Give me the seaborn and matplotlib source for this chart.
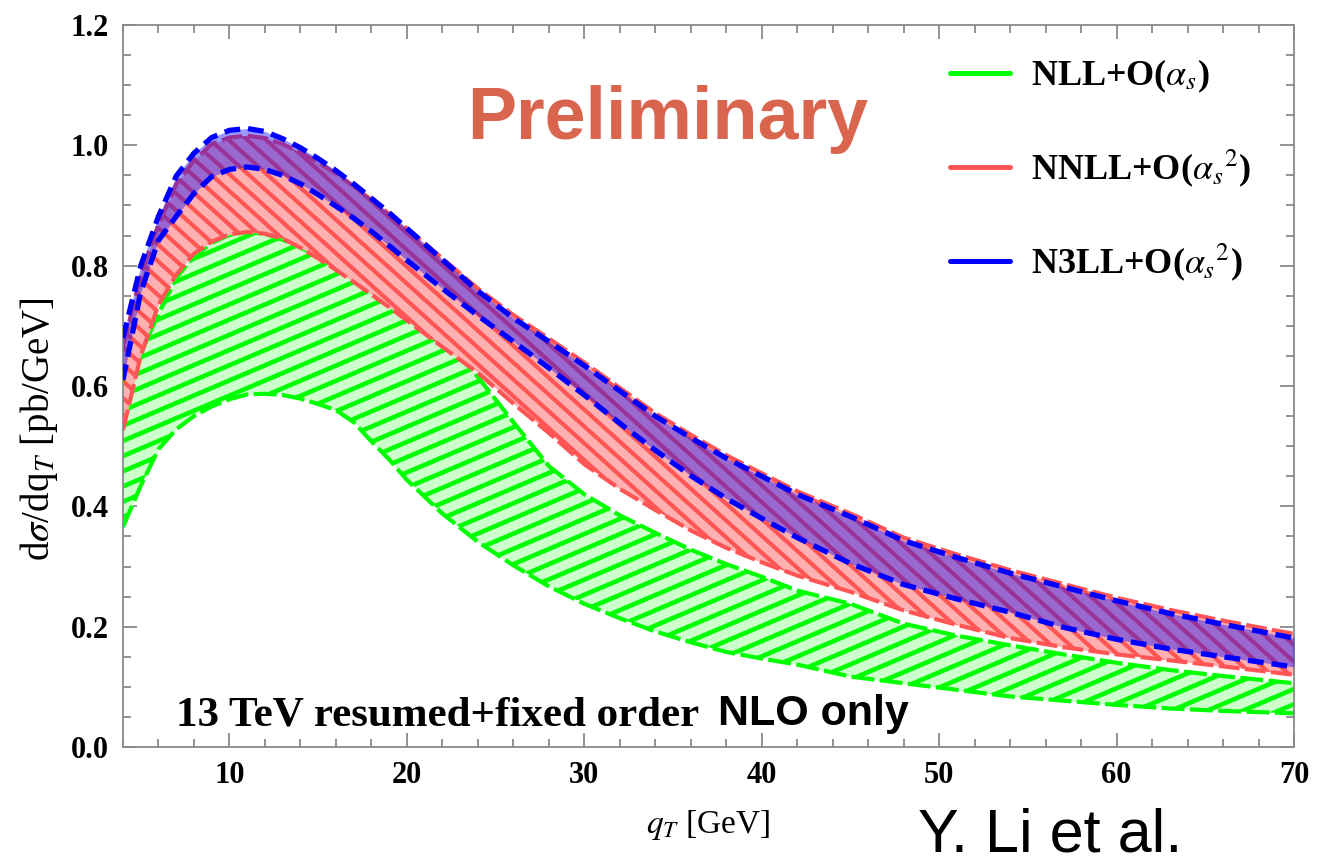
import numpy as np
import pandas as pd
import matplotlib
matplotlib.use("Agg")
import matplotlib.pyplot as plt
import seaborn as sns
from matplotlib.collections import LineCollection
from matplotlib.lines import Line2D
from matplotlib.ticker import MultipleLocator

# ---- data: transverse-momentum spectrum bands (lower / upper scale variation) ----
q_T = [4, 5, 6, 7, 8, 9, 10, 11, 12, 13, 14, 15, 16, 17, 18, 19, 20,
       22, 24, 26, 28, 30, 32, 34, 36, 38, 40, 42, 45, 48, 51, 54, 57, 60, 63, 66, 70]

nll_lo = [0.366, 0.434, 0.495, 0.528, 0.550, 0.566, 0.578, 0.586, 0.587, 0.585, 0.579, 0.570,
          0.560, 0.540, 0.508, 0.478, 0.444,
          0.388, 0.341, 0.302, 0.267, 0.238, 0.214, 0.192, 0.174, 0.158, 0.147, 0.137, 0.117,
          0.106, 0.095, 0.084, 0.077, 0.070, 0.064, 0.060, 0.056]
nll_hi = [0.550, 0.655, 0.720, 0.780, 0.815, 0.838, 0.851, 0.856, 0.853, 0.843, 0.830, 0.816,
          0.800, 0.782, 0.763, 0.743, 0.724,
          0.682, 0.615, 0.540, 0.467, 0.420, 0.385, 0.356, 0.328, 0.304, 0.283, 0.260, 0.238,
          0.205, 0.185, 0.169, 0.154, 0.140, 0.128, 0.118, 0.106]

nnll_lo = [0.527, 0.650, 0.735, 0.785, 0.820, 0.840, 0.852, 0.856, 0.853, 0.845, 0.830, 0.812,
           0.793, 0.773, 0.752, 0.731, 0.709,
           0.665, 0.622, 0.571, 0.522, 0.470, 0.429, 0.394, 0.360, 0.331, 0.307, 0.285, 0.258,
           0.227, 0.203, 0.181, 0.166, 0.154, 0.144, 0.134, 0.120]
nnll_hi = [0.665, 0.785, 0.868, 0.935, 0.975, 1.002, 1.013, 1.016, 1.012, 1.002, 0.988, 0.972,
           0.953, 0.932, 0.909, 0.886, 0.862,
           0.812, 0.762, 0.718, 0.679, 0.639, 0.597, 0.555, 0.519, 0.485, 0.455, 0.425, 0.388,
           0.348, 0.320, 0.294, 0.271, 0.248, 0.228, 0.210, 0.188]

n3ll_lo = [0.610, 0.756, 0.842, 0.882, 0.920, 0.948, 0.960, 0.964, 0.960, 0.950, 0.936, 0.918,
           0.899, 0.879, 0.857, 0.833, 0.809,
           0.762, 0.717, 0.674, 0.630, 0.585, 0.538, 0.493, 0.451, 0.413, 0.380, 0.348, 0.305,
           0.270, 0.246, 0.224, 0.199, 0.179, 0.163, 0.150, 0.133]
n3ll_hi = [0.680, 0.800, 0.882, 0.949, 0.987, 1.013, 1.025, 1.028, 1.023, 1.011, 0.996, 0.978,
           0.958, 0.936, 0.912, 0.888, 0.862,
           0.810, 0.758, 0.713, 0.674, 0.634, 0.592, 0.550, 0.514, 0.480, 0.450, 0.420, 0.383,
           0.343, 0.315, 0.289, 0.266, 0.243, 0.222, 0.204, 0.181]

series_labels = [r"NLL+O($\alpha_s$)", r"NNLL+O(${\alpha_s}^2$)", r"N3LL+O(${\alpha_s}^2$)"]
x_ticks = [10, 20, 30, 40, 50, 60, 70]
y_ticks = [0.0, 0.2, 0.4, 0.6, 0.8, 1.0, 1.2]

# ---- style ----
sns.set_theme(style="ticks")
plt.rcParams["font.family"] = ["Liberation Serif", "DejaVu Serif"]
plt.rcParams["mathtext.fontset"] = "stix"
plt.rcParams["text.color"] = "black"
plt.rcParams["axes.labelcolor"] = "black"

GREEN, GREEN_FILL = "#00ff00", "#ccffcc"
RED, RED_FILL = "#ff5555", "#ffb0b0"
BLUE = "#0000ff"
FRAME = "#8a8a8a"

W_PX, H_PX = 1318, 863
fig = plt.figure(figsize=(W_PX / 100, H_PX / 100), dpi=100)
ax = fig.add_axes([123 / W_PX, 116 / H_PX, 1171 / W_PX, 722 / H_PX])

df = pd.DataFrame({"q_T": q_T,
                   "nll_lo": nll_lo, "nll_hi": nll_hi,
                   "nnll_lo": nnll_lo, "nnll_hi": nnll_hi,
                   "n3ll_lo": n3ll_lo, "n3ll_hi": n3ll_hi})


def add_stripes(ax, poly, angle_deg, spacing_px, color, lw, zorder):
    """Parallel stripes (fixed pixel angle/spacing) clipped to a filled band."""
    bb = ax.get_position()
    w = bb.width * fig.get_figwidth() * fig.dpi
    h = bb.height * fig.get_figheight() * fig.dpi
    th = np.deg2rad(angle_deg)
    d = np.array([np.cos(th), np.sin(th)])
    n = np.array([-np.sin(th), np.cos(th)])
    L = np.hypot(w, h)
    c = np.array([w / 2, h / 2])
    segs = []
    for o in np.arange(-L, L, spacing_px):
        p0 = c + n * o - d * L
        p1 = c + n * o + d * L
        segs.append([(p0[0] / w, p0[1] / h), (p1[0] / w, p1[1] / h)])
    lc = LineCollection(segs, colors=color, linewidths=lw,
                        transform=ax.transAxes, zorder=zorder)
    lc.set_clip_path(poly.get_paths()[0], ax.transData)
    ax.add_collection(lc, autolim=False)


def draw_edges(col_lo, col_hi, color, lw, dash, zorder):
    for col in (col_lo, col_hi):
        sns.lineplot(data=df, x="q_T", y=col, ax=ax, color=color, lw=lw,
                     linestyle=(0, dash), estimator=None, sort=False,
                     legend=False, zorder=zorder)


# NLL band: light green with rising green stripes
g = ax.fill_between(df.q_T, df.nll_lo, df.nll_hi, color=GREEN_FILL, lw=0, zorder=1)
add_stripes(ax, g, 23, 14, GREEN, 3.3, 1.1)
draw_edges("nll_lo", "nll_hi", GREEN, 3.0, (5.5, 1.3), 1.2)

# NNLL band: pink with falling red stripes
r = ax.fill_between(df.q_T, df.nnll_lo, df.nnll_hi, color=RED_FILL, lw=0, zorder=2)
add_stripes(ax, r, -42, 12.5, RED, 3.0, 2.1)
draw_edges("nnll_lo", "nnll_hi", RED, 3.0, (5.0, 1.3), 2.2)

# N3LL band: translucent blue on top
ax.fill_between(df.q_T, df.n3ll_lo, df.n3ll_hi, color=BLUE, alpha=0.4, lw=0, zorder=3)
draw_edges("n3ll_lo", "n3ll_hi", BLUE, 3.8, (3.0, 1.5), 3.2)

# ---- axes ----
ax.set_xlim(4, 70)
ax.set_ylim(0, 1.2)
ax.set_xticks(x_ticks)
ax.set_yticks(y_ticks)
ax.set_xticklabels([str(v) for v in x_ticks])
ax.set_yticklabels([f"{v:.1f}" for v in y_ticks])
ax.xaxis.set_minor_locator(MultipleLocator(2))
ax.yaxis.set_minor_locator(MultipleLocator(0.05))
ax.tick_params(which="both", direction="in", top=True, right=True, color=FRAME,
               width=1.3, labelcolor="black")
ax.tick_params(which="major", length=10)
ax.tick_params(which="minor", length=6)
ax.tick_params(axis="both", which="major", labelsize=22, pad=10)
for lab in ax.get_xticklabels() + ax.get_yticklabels():
    lab.set_fontweight("bold")
for sp in ax.spines.values():
    sp.set_color(FRAME)
    sp.set_linewidth(1.3)

ax.set_xlabel(r"$q_T$ [GeV]", fontsize=24, va="top")
ax.xaxis.set_label_coords(0.5, -0.085)
ax.set_ylabel(r"d$\sigma$/dq$_T$ [pb/GeV]", fontsize=28, va="center")
ax.yaxis.set_label_coords(-0.072, 0.44)

# ---- legend ----
handles = [Line2D([], [], color=GREEN, lw=3.6),
           Line2D([], [], color=RED, lw=3.6),
           Line2D([], [], color=BLUE, lw=3.6)]
ax.legend(handles, series_labels, loc="upper left",
          bbox_to_anchor=(950 / W_PX, 1 - 58 / H_PX), bbox_transform=fig.transFigure,
          frameon=False, borderpad=0, borderaxespad=0, handlelength=1.65,
          handletextpad=0.6, labelspacing=1.45,
          prop={"family": "Liberation Serif", "weight": "bold", "size": 26})

# ---- annotations ----
fig.text(467 / W_PX, 1 - 139 / H_PX, "Preliminary", family="Liberation Sans",
         weight="bold", fontsize=53, color="#d9654f", ha="left", va="baseline")
fig.text(176 / W_PX, 1 - 725 / H_PX, "13 TeV resumed+fixed order",
         weight="bold", fontsize=31, ha="left", va="baseline")
fig.text(718 / W_PX, 1 - 725 / H_PX, "NLO only", family="Liberation Sans",
         weight="bold", fontsize=31, ha="left", va="baseline")
fig.text(918 / W_PX, 1 - 851 / H_PX, "Y. Li et al.", family="Liberation Sans",
         fontsize=44, ha="left", va="baseline")

fig.savefig("out.png", dpi=100)
